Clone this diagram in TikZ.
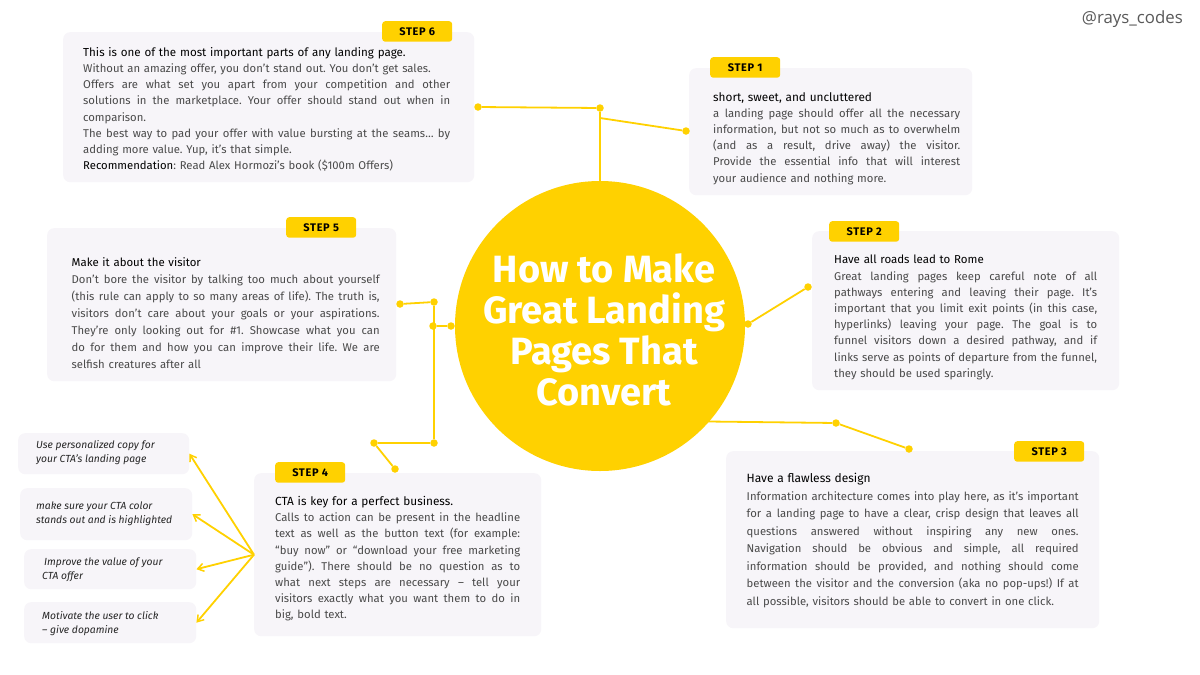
\documentclass[tikz,border=0pt]{standalone}
\usepackage{fontspec}
\setmainfont{Fira Sans}
\newfontfamily\wmfont{Open Sans}
\newfontfamily\tagfont[LetterSpace=6]{Fira Sans}
\usetikzlibrary{arrows.meta}
\definecolor{yel}{HTML}{FFD100}
\definecolor{panel}{HTML}{F7F5F9}
\definecolor{bodyc}{HTML}{4A4A4A}
\hbadness=10000
\hfuzz=20pt
\newcommand\jl[1]{\hbox to \tw{\spaceskip=0.25em plus 1fil\relax #1}\par}
\newcommand\pl[1]{\hbox{#1}\par}
\newcommand\hd[2][11.6]{\hbox{\fontsize{#1}{16}\selectfont\textcolor{black}{#2}}\par}
\tikzset{
  x=1pt,y=-1pt,
  panelbox/.style={fill=panel,rounded corners=7pt,inner sep=0,anchor=north west,draw=none},
  tagbox/.style={fill=yel,rounded corners=3pt,inner sep=0,anchor=north west,minimum width=70pt,minimum height=20.5pt,font=\tagfont\bfseries\fontsize{11}{13}\selectfont,text=black},
  bodytext/.style={anchor=north west,inner sep=0,text=bodyc,font=\frenchspacing\fontsize{11.3}{16.2}\selectfont},
  bodywide/.style={anchor=north west,inner sep=0,text=bodyc,font=\frenchspacing\fontsize{11.3}{17.5}\selectfont},
  bodyfive/.style={anchor=north west,inner sep=0,text=bodyc,font=\frenchspacing\fontsize{11.3}{17}\selectfont},
  ctatext/.style={anchor=north west,inner sep=0,align=left,text=black!85,font=\itshape\fontsize{10.3}{14}\selectfont},
  dot/.style={circle,fill=yel,inner sep=0,minimum size=7.5pt},
  link/.style={draw=yel,line width=1.8pt},
  arrowlink/.style={link,-{Straight Barb[length=6pt,width=8pt,line width=1.5pt]}},
}
\begin{document}
\begin{tikzpicture}
\useasboundingbox (0,0) rectangle (1200,675);
\fill[white] (0,0) rectangle (1200,675);

% hub
\node[circle,fill=yel,minimum size=290pt,inner sep=0] (hub) at (600,326) {};
\node[text=white,align=center,inner sep=0,font=\bfseries\fontsize{38}{41}\selectfont] (title) at (604,330) {How to Make\\Great Landing\\Pages That\\Convert};

% panels
\node[panelbox,minimum width=411pt,minimum height=150pt] (s6) at (63,32) {};
\node[panelbox,minimum width=283pt,minimum height=127pt] (s1) at (689,68) {};
\node[panelbox,minimum width=307pt,minimum height=159pt] (s2) at (812,231) {};
\node[panelbox,minimum width=373pt,minimum height=177pt] (s3) at (726,451) {};
\node[panelbox,minimum width=287pt,minimum height=163pt] (s4) at (254,473) {};
\node[panelbox,minimum width=349pt,minimum height=153pt] (s5) at (47,228) {};
\node[panelbox,minimum width=171pt,minimum height=41pt] (c1) at (18,433) {};
\node[panelbox,minimum width=172pt,minimum height=52pt] (c2) at (20,488) {};
\node[panelbox,minimum width=172pt,minimum height=40pt] (c3) at (24,549) {};
\node[panelbox,minimum width=172pt,minimum height=41pt] (c4) at (24,602) {};

% tags
\node[tagbox] (t6) at (382,21) {STEP 6};
\node[tagbox] (t1) at (710,57) {STEP 1};
\node[tagbox] (t2) at (829,221) {STEP 2};
\node[tagbox] (t3) at (1014,441) {STEP 3};
\node[tagbox] (t4) at (275,462) {STEP 4};
\node[tagbox] (t5) at (286,217) {STEP 5};

% body text
\node[bodytext,text width=367pt] (x6) at (83,47) {\def\tw{367pt}%
\hd{This is one of the most important parts of any landing page.}
\pl{Without an amazing offer, you don’t stand out. You don’t get sales.}
\jl{Offers are what set you apart from your competition and other}
\jl{solutions in the marketplace. Your offer should stand out when in}
\pl{comparison.}
\jl{The best way to pad your offer with value bursting at the seams… by}
\pl{adding more value. Yup, it’s that simple.}
\pl{\textcolor{black}{Recommendation}: Read Alex Hormozi’s book (\$100m Offers)}};

\node[bodytext,text width=247pt] (x1) at (713,92) {\def\tw{247pt}%
\hd[11.8]{short, sweet, and uncluttered}
\jl{a landing page should offer all the necessary}
\jl{information, but not so much as to overwhelm}
\jl{(and as a result, drive away) the visitor.}
\jl{Provide the essential info that will interest}
\pl{your audience and nothing more.}};

\node[bodytext,text width=263pt] (x2) at (834,255) {\def\tw{263pt}%
\hd[11.5]{Have all roads lead to Rome}
\jl{Great landing pages keep careful note of all}
\jl{pathways entering and leaving their page. It’s}
\jl{important that you limit exit points (in this case,}
\jl{hyperlinks) leaving your page. The goal is to}
\jl{funnel visitors down a desired pathway, and if}
\jl{links serve as points of departure from the funnel,}
\pl{they should be used sparingly.}};

\node[bodywide,text width=332pt] (x3) at (746.5,473) {\def\tw{332pt}%
\hd[12]{Have a flawless design}
\jl{Information architecture comes into play here, as it’s important}
\jl{for a landing page to have a clear, crisp design that leaves all}
\jl{questions answered without inspiring any new ones.}
\jl{Navigation should be obvious and simple, all required}
\jl{information should be provided, and nothing should come}
\jl{between the visitor and the conversion (aka no pop-ups!) If at}
\pl{all possible, visitors should be able to convert in one click.}};

\node[bodytext,text width=245pt] (x4) at (275,496) {\def\tw{245pt}%
\hd[11.8]{CTA is key for a perfect business.}
\jl{Calls to action can be present in the headline}
\jl{text as well as the button text (for example:}
\jl{“buy now” or “download your free marketing}
\jl{guide”). There should be no question as to}
\jl{what next steps are necessary – tell your}
\jl{visitors exactly what you want them to do in}
\pl{big, bold text.}};

\node[bodyfive,text width=308pt] (x5) at (71.5,257) {\def\tw{308pt}%
\hd[11.4]{Make it about the visitor}
\jl{Don’t bore the visitor by talking too much about yourself}
\jl{(this rule can apply to so many areas of life). The truth is,}
\jl{visitors don’t care about your goals or your aspirations.}
\jl{They’re only looking out for \#1. Showcase what you can}
\jl{do for them and how you can improve their life. We are}
\pl{selfish creatures after all}};

% CTA text
\node[ctatext] (y1) at (36,440) {Use personalized copy for\\your CTA’s landing page};
\node[ctatext] (y2) at (36,502) {make sure your CTA color\\stands out and is highlighted};
\node[ctatext] (y3) at (42,558) {\hspace{2pt}Improve the value of your\\CTA offer};
\node[ctatext] (y4) at (42,611) {Motivate the user to click\\– give dopamine};

% watermark
\node[anchor=east,inner sep=0,text=black!65,font=\wmfont\fontsize{16.8}{19}\selectfont] (wm) at (1183,19) {@rays\_codes};

% connector points
\node[dot] (a1) at (478,107) {};
\node[dot] (a2) at (600,108) {};
\coordinate (a3) at (600,118);
\node[dot] (a4) at (686,131) {};
\node[dot] (b1) at (748,324) {};
\node[dot] (b2) at (808,287) {};
\coordinate (d1) at (708,421.5);
\node[dot] (d2) at (836,423) {};
\node[dot] (d3) at (909,449) {};
\node[dot] (e1) at (400,304) {};
\node[dot] (e2) at (434,302) {};
\node[dot] (e3) at (433,326) {};
\node[dot] (e4) at (451,326) {};
\node[dot] (e5) at (434,443) {};
\node[dot] (e6) at (374,443) {};
\node[dot] (e7) at (395,469) {};

\draw[link] (a1) -- (a2);
\draw[link] (a2) -- (hub);
\draw[link] (a3) -- (a4);
\draw[link] (b1) -- (b2);
\draw[link] (d1) -- (d2);
\draw[link] (d2) -- (d3);
\draw[link] (e1) -- (e2);
\draw[link] (e2) -- (e5);
\draw[link] (e3) -- (e4);
\draw[link] (e5) -- (e6);
\draw[link] (e6) -- (e7);

\draw[arrowlink] (s4.west) -- (c1.east);
\draw[arrowlink] (s4.west) -- (c2.east);
\draw[arrowlink] (s4.west) -- (c3.east);
\draw[arrowlink] (s4.west) -- (c4.east);
\end{tikzpicture}
\end{document}
